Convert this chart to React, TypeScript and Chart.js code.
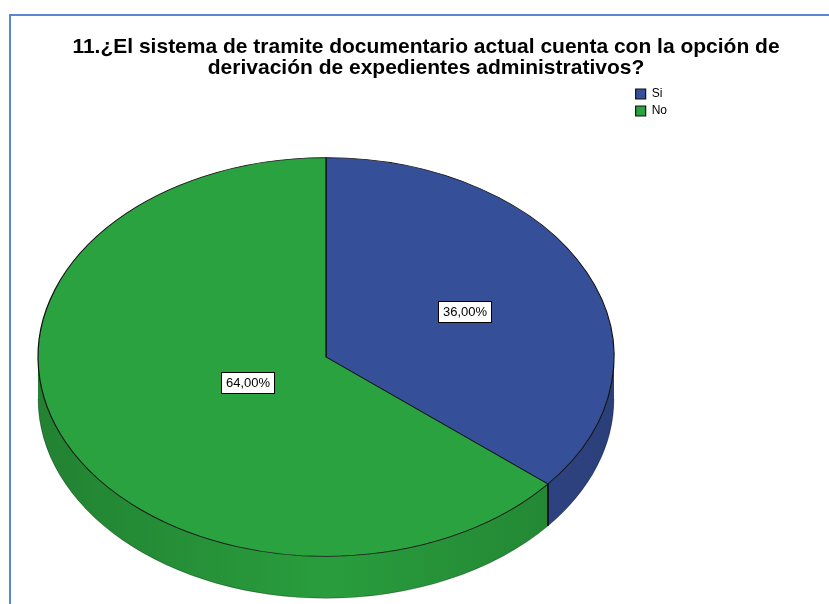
import React, { useEffect, useRef } from 'react';
import { Chart, registerables } from 'chart.js';

Chart.register(...registerables);

const TITLE_LINES = [
  '11.¿El sistema de tramite documentario actual cuenta con la opción de',
  'derivación de expedientes administrativos?',
];
const CATEGORIES = ['Si', 'No'];
const PERCENTS = [36, 64];
const COLORS = ['#364F99', '#2AA23F'];

// 3D projection layout
const CX = 326;
const CY = 357;
const RX = 288;
const TILT = 0.692;
const DEPTH = 42;

const FONT = 'Arial, "Liberation Sans", sans-serif';

function shade(hex: string, f: number): string {
  const h = hex.replace('#', '');
  const r = Math.round(parseInt(h.slice(0, 2), 16) * f);
  const g = Math.round(parseInt(h.slice(2, 4), 16) * f);
  const b = Math.round(parseInt(h.slice(4, 6), 16) * f);
  return `rgb(${Math.min(255, r)},${Math.min(255, g)},${Math.min(255, b)})`;
}

const titlePlugin = {
  id: 'spssTitle',
  afterDraw(chart: any) {
    const ctx: CanvasRenderingContext2D = chart.ctx;
    ctx.save();
    ctx.font = `bold 21px ${FONT}`;
    ctx.fillStyle = '#000';
    ctx.textAlign = 'center';
    ctx.textBaseline = 'alphabetic';
    TITLE_LINES.forEach((line, i) => {
      ctx.fillText(line, 426, 53 + i * 21);
    });
    ctx.restore();
  },
};

const pie3d = {
  id: 'pie3d',
  beforeDatasetsDraw(chart: any) {
    const ctx: CanvasRenderingContext2D = chart.ctx;
    const meta = chart.getDatasetMeta(0);
    const arcs = meta.data as any[];
    if (!arcs.length) return;
    const RY = RX * TILT;
    const TWO = Math.PI * 2;

    // side walls (front half only)
    arcs.forEach((arc: any, i: number) => {
      const color = COLORS[i % COLORS.length];
      for (let k = -1; k <= 1; k++) {
        const a0 = Math.max(arc.startAngle + k * TWO, 0);
        const a1 = Math.min(arc.endAngle + k * TWO, Math.PI);
        if (a1 <= a0) continue;
        ctx.save();
        ctx.beginPath();
        ctx.ellipse(CX, CY, RX, RY, 0, a0, a1, false);
        ctx.ellipse(CX, CY + DEPTH, RX, RY, 0, a1, a0, true);
        ctx.closePath();
        const grad = ctx.createLinearGradient(CX - RX, 0, CX + RX, 0);
        grad.addColorStop(0, shade(color, 0.8));
        grad.addColorStop(0.5, shade(color, 0.97));
        grad.addColorStop(1, shade(color, 0.8));
        ctx.fillStyle = grad;
        ctx.fill();
        ctx.restore();
      }
    });

    // bottom outline of the side
    ctx.save();
    ctx.beginPath();
    ctx.ellipse(CX, CY + DEPTH, RX, RY, 0, 0, Math.PI, false);
    ctx.strokeStyle = 'rgba(0,0,0,0.25)';
    ctx.lineWidth = 1;
    ctx.stroke();
    ctx.restore();

    // vertical edges at slice boundaries in the front
    arcs.forEach((arc: any) => {
      let a = arc.startAngle;
      while (a < 0) a += TWO;
      while (a >= TWO) a -= TWO;
      if (a > 0.001 && a < Math.PI - 0.001) {
        const x = CX + RX * Math.cos(a);
        const y = CY + RY * Math.sin(a);
        ctx.save();
        ctx.beginPath();
        ctx.moveTo(x, y);
        ctx.lineTo(x, y + DEPTH);
        ctx.strokeStyle = '#000';
        ctx.lineWidth = 1.5;
        ctx.stroke();
        ctx.restore();
      }
    });

    // project the top face
    const a0 = arcs[0];
    ctx.save();
    ctx.translate(CX, CY);
    ctx.scale(1, TILT);
    ctx.translate(-a0.x, -a0.y);
  },
  afterDatasetsDraw(chart: any) {
    const ctx: CanvasRenderingContext2D = chart.ctx;
    const meta = chart.getDatasetMeta(0);
    const arcs = meta.data as any[];
    if (!arcs.length) return;
    ctx.restore();

    const values = chart.data.datasets[0].data as number[];
    const total = values.reduce((s, v) => s + v, 0);
    ctx.save();
    ctx.font = `13px ${FONT}`;
    ctx.textAlign = 'center';
    ctx.textBaseline = 'middle';
    arcs.forEach((arc: any, i: number) => {
      const th = arc.endAngle - arc.startAngle;
      const mid = (arc.startAngle + arc.endAngle) / 2;
      const d = (4 * arc.outerRadius * Math.sin(th / 2)) / (3 * th);
      const x = CX + d * Math.cos(mid);
      const y = CY + d * TILT * Math.sin(mid);
      const txt = ((values[i] / total) * 100).toFixed(2).replace('.', ',') + '%';
      const tw = ctx.measureText(txt).width;
      const w = Math.round(tw + 9);
      const h = 21;
      const bx = Math.round(x - w / 2) + 0.5;
      const by = Math.round(y - h / 2) + 0.5;
      ctx.fillStyle = '#fff';
      ctx.fillRect(bx, by, w, h);
      ctx.strokeStyle = '#000';
      ctx.lineWidth = 1;
      ctx.strokeRect(bx, by, w, h);
      ctx.fillStyle = '#000';
      ctx.fillText(txt, bx + w / 2, by + h / 2 + 0.5);
    });
    ctx.restore();
  },
};

export default function App() {
  const ref = useRef<HTMLCanvasElement | null>(null);

  useEffect(() => {
    if (!ref.current) return;
    const chart = new Chart(ref.current, {
      type: 'pie',
      data: {
        labels: CATEGORIES,
        datasets: [
          {
            data: PERCENTS,
            backgroundColor: COLORS,
            borderColor: '#111',
            borderWidth: 1.2,
            radius: RX,
            clip: false,
          } as any,
        ],
      },
      options: {
        responsive: false,
        animation: false,
        devicePixelRatio: 1,
        layout: { padding: { left: 21, right: 152, top: 83, bottom: 0 } },
        plugins: {
          title: { display: false },
          legend: {
            position: 'right',
            align: 'start',
            fullSize: false,
            labels: {
              boxWidth: 10,
              boxHeight: 10,
              padding: 5,
              color: '#000',
              font: { family: FONT, size: 12 },
            },
          },
          tooltip: { enabled: false },
        },
      } as any,
      plugins: [pie3d, titlePlugin],
    });
    return () => chart.destroy();
  }, []);

  return (
    <div
      style={{
        position: 'fixed',
        left: 0,
        top: 0,
        width: 829,
        height: 604,
        background: '#fff',
        overflow: 'hidden',
      }}
    >
      <div
        style={{
          position: 'absolute',
          left: 9,
          top: 14,
          width: 900,
          height: 700,
          borderLeft: '2px solid #5B86D6',
          borderTop: '2px solid #5B86D6',
        }}
      />
      <canvas
        ref={ref}
        width={829}
        height={604}
        style={{ position: 'absolute', left: 0, top: 0 }}
      />
    </div>
  );
}
